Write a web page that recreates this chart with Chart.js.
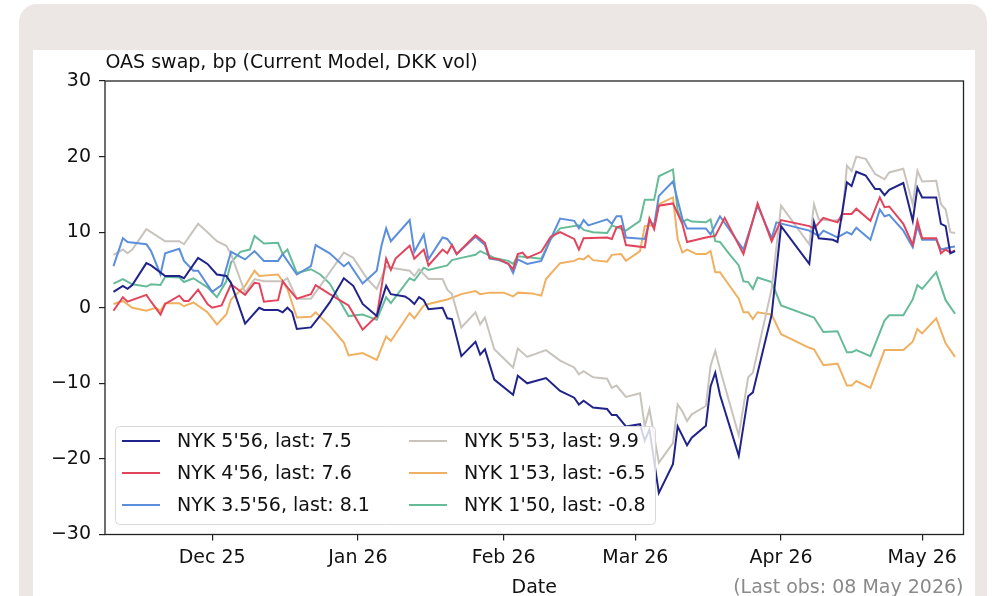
<!DOCTYPE html>
<html><head><meta charset="utf-8">
<script src="https://cdn.jsdelivr.net/npm/chart.js@4.4.1/dist/chart.umd.min.js"></script>
<style>
html,body{margin:0;padding:0;background:#fff;width:997px;height:596px;overflow:hidden;}
#card{position:absolute;left:19px;top:4px;width:968px;height:640px;background:#ece7e4;border-radius:18px;}
#inner{position:absolute;left:33px;top:50px;width:942px;height:600px;background:#fff;}
canvas{position:absolute;left:0;top:0;}
</style></head><body>
<div id="card"></div><div id="inner"></div>
<canvas id="c" width="997" height="596"></canvas>
<script>
// Day offsets are counted from this date
const DAY0 = '2025-12-01';

const seriesNames = ["NYK 5'56", "NYK 4'56", "NYK 3.5'56", "NYK 5'53", "NYK 1'53", "NYK 1'50"];
const seriesColors = ['#20248a', '#e2445c', '#5b8fdb', '#c9c3bd', '#f0b062', '#66bb98'];

const tickDates = ['2025-12-01', '2026-01-01', '2026-02-01', '2026-03-01', '2026-04-01', '2026-05-01'];
const xTickLabels = ['Dec 25', 'Jan 26', 'Feb 26', 'Mar 26', 'Apr 26', 'May 26'];

// NYK 5'56
const nyk556Day = [-21,-19,-18,-17,-14,-13,-10,-7,-6,-3,-1,1,3,4,7,10,11,14,15,16,17,18,21,23,25,28,30,32,35,37,38,41,42,43,44,45,46,49,50,51,53,56,57,58,60,64,65,67,71,74,77,78,79,81,84,85,86,88,91,92,93,95,98,99,101,102,105,106,107,108,112,114,115,119,121,127,128,129,132,133,135,136,137,139,141,142,143,144,147,149,150,151,154,155,156,157,158];
const nyk556Val = [2.1,2.9,2.5,3.0,5.9,5.6,4.2,4.2,3.9,6.6,5.8,4.4,4.2,3.3,-2.1,0.0,-0.3,-0.3,-0.6,0.0,-0.6,-2.8,-2.6,-1.0,0.7,3.9,2.9,0.5,-1.1,2.9,1.8,1.5,1.1,0.5,1.4,1.0,-0.2,0.0,-1.4,-1.5,-6.4,-4.5,-6.2,-5.5,-9.5,-11.5,-9.0,-10.0,-9.3,-11.0,-11.9,-12.8,-12.3,-13.2,-13.4,-14.2,-14.2,-15.7,-15.4,-17.6,-16.1,-24.5,-20.7,-15.7,-18.2,-17.2,-15.6,-10.4,-8.6,-11.5,-19.6,-11.7,-11.2,-0.9,10.8,5.8,11.3,9.2,9.0,8.7,16.6,16.1,18.0,17.5,15.7,15.7,14.9,15.6,16.5,11.5,15.9,14.6,14.6,11.1,10.8,7.2,7.5];

// NYK 4'56
const nyk456Day = [-21,-19,-18,-14,-13,-11,-10,-7,-6,-5,-3,-1,0,2,4,7,9,10,11,14,15,16,18,21,22,25,29,32,35,37,38,39,42,43,45,46,49,50,51,52,56,58,59,61,63,64,65,66,67,70,72,74,77,78,79,84,85,86,87,88,92,93,94,95,98,100,101,105,107,109,113,116,119,121,127,128,130,133,134,136,137,140,142,143,144,147,149,150,151,154,155,156,157,158];
const nyk456Val = [-0.4,1.4,0.8,1.7,0.8,-0.9,0.5,1.6,0.9,0.9,2.4,0.5,0.0,0.3,3.1,1.7,3.3,3.2,0.8,1.0,3.5,2.7,1.2,1.8,3.0,1.8,0.3,-2.9,-1.1,6.5,5.0,6.5,8.2,6.5,7.7,5.6,7.7,7.2,8.3,7.1,9.6,8.6,6.6,6.4,5.8,5.1,7.1,7.3,6.6,7.4,9.4,10.0,9.1,7.7,9.2,9.3,9.1,10.6,10.8,8.3,8.0,11.8,10.4,13.5,13.8,11.1,8.7,9.3,9.5,11.9,7.1,13.8,8.8,11.6,10.8,10.5,11.9,11.3,12.4,12.4,13.1,11.5,14.6,13.3,13.4,11.1,8.3,11.5,9.2,9.2,7.2,7.7,7.3,7.6];

// NYK 3.5'56
const nyk3556Day = [-21,-19,-18,-14,-13,-11,-10,-7,-6,-4,-3,0,2,4,7,9,11,14,15,18,21,22,25,28,29,32,35,36,37,38,42,43,45,46,49,50,51,52,56,58,59,61,63,64,65,67,70,72,74,77,78,79,80,84,85,86,87,88,92,93,94,95,98,100,101,105,106,108,113,116,119,120,127,129,130,133,135,136,137,140,142,143,144,147,149,150,151,154,155,157,158];
const nyk3556Val = [5.5,9.2,8.7,8.4,7.5,4.4,7.2,7.8,6.2,4.9,4.9,2.1,3.0,7.4,6.4,7.5,6.2,6.2,7.1,4.4,5.5,8.3,7.2,5.5,6.0,3.2,4.9,8.2,10.5,8.8,11.6,7.4,9.7,6.4,9.3,9.1,8.3,7.1,9.4,8.3,6.5,6.3,5.8,4.6,6.4,5.8,6.2,9.1,11.8,11.5,10.5,11.6,10.9,11.7,11.1,12.1,12.1,9.3,9.1,11.5,10.9,14.8,16.7,11.8,10.5,10.5,9.7,12.1,7.7,13.5,9.2,11.3,10.2,9.5,10.2,9.3,10.0,9.7,10.6,9.0,13.0,12.1,12.3,10.2,8.0,10.8,9.0,9.0,7.7,8.0,8.1];

// NYK 5'53
const nyk553Day = [-21,-19,-18,-17,-14,-13,-10,-7,-6,-3,-1,1,3,4,7,9,11,15,16,18,21,23,25,28,30,33,35,37,38,42,43,44,46,49,50,51,53,56,57,58,60,64,65,67,71,74,77,78,79,81,84,85,86,88,91,92,93,95,98,99,100,101,102,105,106,107,108,112,114,115,119,121,127,128,129,132,134,135,136,137,139,141,143,144,147,149,150,151,154,155,156,157,158];
const nyk553Val = [7.0,7.7,7.2,7.7,10.4,10.0,8.8,8.8,8.4,11.1,10.0,8.8,8.2,7.1,2.0,3.8,3.5,3.5,3.9,1.2,1.2,2.9,4.7,7.3,6.6,3.8,2.5,5.5,5.3,4.9,4.2,5.1,3.8,3.8,2.4,1.8,-2.6,-0.6,-2.2,-1.3,-5.5,-7.9,-5.4,-6.5,-5.6,-7.0,-7.9,-8.8,-8.4,-9.2,-9.4,-10.6,-10.3,-11.8,-11.3,-15.7,-13.4,-20.5,-17.9,-12.8,-13.7,-15.0,-14.1,-13.0,-7.7,-5.7,-8.1,-16.9,-9.2,-8.6,2.5,13.5,8.4,13.7,11.7,11.5,11.7,18.8,18.1,20.0,19.7,17.7,17.0,17.9,18.4,13.7,18.1,16.7,16.8,13.7,13.0,10.0,9.9];

// NYK 1'53
const nyk153Day = [-21,-19,-17,-14,-12,-11,-10,-7,-6,-4,-1,1,3,4,7,9,10,14,15,16,18,21,22,25,28,29,32,35,37,38,42,43,45,46,50,53,56,57,59,62,64,65,68,70,71,74,77,78,79,80,81,84,85,87,88,91,92,94,95,98,99,100,101,103,105,106,107,108,112,113,114,115,116,119,121,127,128,130,133,135,136,137,140,143,144,147,149,150,151,154,156,158];
const nyk153Val = [0.5,0.9,0.0,-0.4,0.0,-0.4,0.6,0.6,0.2,0.7,-0.6,-2.2,-0.9,1.1,2.9,4.9,4.2,4.4,3.5,2.5,-1.3,-1.2,-0.6,-2.4,-4.6,-6.3,-6.0,-6.9,-3.8,-4.4,-0.7,-1.4,0.3,0.5,1.1,1.8,2.2,1.8,2.0,2.0,1.5,2.0,1.9,1.6,3.8,5.9,6.2,6.5,6.4,6.9,6.3,6.1,7.0,7.1,6.2,7.5,10.8,10.9,13.7,14.6,9.1,7.3,7.7,7.1,7.1,7.5,4.7,4.7,1.2,-0.6,-0.6,-1.5,-0.6,-0.9,-3.5,-5.3,-5.5,-7.6,-7.4,-10.3,-10.3,-9.7,-10.6,-5.6,-5.6,-5.6,-4.5,-2.8,-3.4,-1.4,-4.7,-6.5];

// NYK 1'50
const nyk150Day = [-21,-19,-17,-14,-13,-11,-10,-7,-6,-4,-1,1,3,4,6,8,9,11,14,15,16,18,21,23,25,29,32,35,37,38,42,43,45,46,50,51,53,56,57,60,63,64,65,70,72,74,78,79,81,84,85,88,91,92,94,95,98,99,100,101,102,105,106,107,108,110,112,113,114,115,116,119,121,128,130,133,135,136,137,140,143,144,147,149,150,151,154,156,158];
const nyk150Val = [3.2,3.8,3.1,2.8,3.1,3.0,4.1,4.0,3.4,3.9,2.7,1.4,3.5,6.0,7.4,7.7,9.5,8.5,8.6,7.1,7.7,4.6,5.1,4.4,3.2,-1.1,-0.9,-1.6,1.4,0.6,3.9,3.6,5.3,5.0,5.6,6.3,6.6,7.0,7.5,6.6,6.2,5.8,6.8,6.5,9.1,10.5,10.9,10.3,10.0,9.9,10.9,10.2,11.5,14.3,14.3,17.4,18.3,12.8,11.3,11.7,11.4,11.3,11.7,8.8,8.7,7.1,5.6,3.5,3.4,2.5,4.0,3.4,0.3,-1.3,-3.2,-3.1,-5.9,-5.9,-5.6,-6.4,-1.7,-1.0,-1.0,1.1,3.0,2.5,4.7,1.0,-0.8];

const seriesDays = [nyk556Day, nyk456Day, nyk3556Day, nyk553Day, nyk153Day, nyk150Day];
const seriesVals = [nyk556Val, nyk456Val, nyk3556Val, nyk553Val, nyk153Val, nyk150Val];

const dayOf = s => Math.round((Date.parse(s) - Date.parse(DAY0)) / 86400000);
const tickDays = tickDates.map(dayOf);
const X_MIN = -22.8, X_MAX = 159.8; // axis limits (1% margin around the data)

const FONT = '"DejaVu Sans", sans-serif';
Chart.defaults.font.family = FONT;
Chart.defaults.font.size = 19;
Chart.defaults.color = '#111';

const datasets = seriesNames.map((n, k) => ({
  label: n + ', last: ' + seriesVals[k][seriesVals[k].length - 1].toFixed(1),
  data: seriesDays[k].map((d, i) => ({x: d, y: seriesVals[k][i]})),
  borderColor: seriesColors[k],
  backgroundColor: seriesColors[k],
  borderWidth: 2,
  pointRadius: 0,
  tension: 0,
  fill: false
}));

const deco = {
  id: 'deco',
  afterDatasetsDraw(chart) {
    const ctx = chart.ctx;
    // legend box
    ctx.save();
    const lx = 115.5, ly = 426.5, lw = 540, lh = 98, r = 4;
    ctx.beginPath();
    ctx.moveTo(lx + r, ly);
    ctx.lineTo(lx + lw - r, ly); ctx.quadraticCurveTo(lx + lw, ly, lx + lw, ly + r);
    ctx.lineTo(lx + lw, ly + lh - r); ctx.quadraticCurveTo(lx + lw, ly + lh, lx + lw - r, ly + lh);
    ctx.lineTo(lx + r, ly + lh); ctx.quadraticCurveTo(lx, ly + lh, lx, ly + lh - r);
    ctx.lineTo(lx, ly + r); ctx.quadraticCurveTo(lx, ly, lx + r, ly);
    ctx.closePath();
    ctx.fillStyle = 'rgba(255,255,255,0.8)';
    ctx.fill();
    ctx.strokeStyle = '#d8d8d8';
    ctx.lineWidth = 1;
    ctx.stroke();
    ctx.font = '19px ' + FONT;
    ctx.textBaseline = 'middle';
    ctx.textAlign = 'left';
    chart.data.datasets.forEach((ds, k) => {
      const col = Math.floor(k / 3), row = k % 3;
      const x0 = 122 + col * 287, y0 = 441 + row * 32;
      ctx.strokeStyle = ds.borderColor;
      ctx.lineWidth = 2;
      ctx.beginPath(); ctx.moveTo(x0, y0); ctx.lineTo(x0 + 38, y0); ctx.stroke();
      ctx.fillStyle = '#111';
      ctx.fillText(ds.label, x0 + 55, y0 + 1);
    });
    ctx.restore();
  },
  afterDraw(chart) {
    const ctx = chart.ctx, a = chart.chartArea;
    ctx.save();
    ctx.strokeStyle = '#222';
    ctx.lineWidth = 1.3;
    ctx.strokeRect(a.left, a.top, a.right - a.left, a.bottom - a.top);
    ctx.font = '19px ' + FONT;
    ctx.fillStyle = '#111';
    ctx.textBaseline = 'alphabetic';
    ctx.textAlign = 'left';
    ctx.fillText('OAS swap, bp (Current Model, DKK vol)', a.left + 0.5, 68);
    ctx.textAlign = 'center';
    ctx.fillText('Date', (a.left + a.right) / 2, 593);
    ctx.textAlign = 'right';
    ctx.fillStyle = '#8a8a8a';
    ctx.fillText('(Last obs: 08 May 2026)', a.right, 593);
    ctx.restore();
  }
};

const tickGrid = {drawOnChartArea: false, drawTicks: true, tickLength: 6, color: '#222', lineWidth: 1.2};

new Chart(document.getElementById('c'), {
  type: 'line',
  data: {datasets},
  options: {
    responsive: false,
    animation: false,
    devicePixelRatio: 1,
    layout: {padding: {left: 0, top: 81, right: 33.5, bottom: 0}},
    plugins: {legend: {display: false}, tooltip: {enabled: false}, title: {display: false}},
    scales: {
      x: {
        type: 'linear', min: X_MIN, max: X_MAX,
        afterFit(s) { s.height = 61.5; },
        afterBuildTicks(s) { s.ticks = tickDays.map(v => ({value: v})); },
        ticks: {callback: (v, i) => xTickLabels[i], autoSkip: false, maxRotation: 0, padding: 6, color: '#111'},
        grid: tickGrid,
        border: {display: false}
      },
      y: {
        min: -30, max: 30,
        afterFit(s) { s.width = 105; },
        ticks: {stepSize: 10, callback: v => v < 0 ? '\u2212' + Math.abs(v) : String(v), padding: 8, color: '#111'},
        grid: tickGrid,
        border: {display: false}
      }
    }
  },
  plugins: [deco]
});
</script>
</body></html>
